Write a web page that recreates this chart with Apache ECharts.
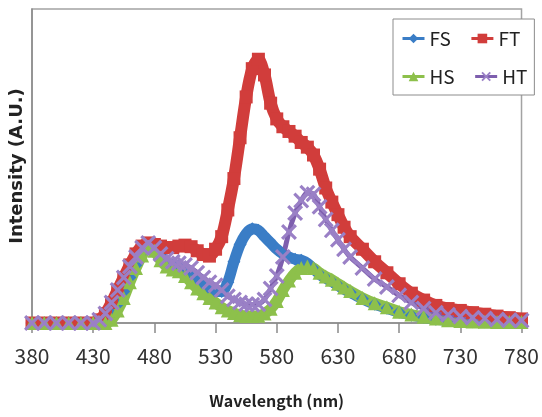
<!DOCTYPE html>
<html><head><meta charset="utf-8">
<script src="https://cdn.jsdelivr.net/npm/echarts@6/dist/echarts.min.js"></script>
<style>html,body{margin:0;padding:0;background:#fff}#c{width:542px;height:417px}</style>
</head><body><div id="c"></div>
<script>
const wavelengths = [380,390,400,410,420,430,435,440,445,450,455,460,465,470,475,480,485,490,495,500,505,510,515,520,525,530,535,540,545,550,555,560,565,570,575,580,585,590,595,600,605,610,615,620,625,630,635,640,650,660,670,680,690,700,710,720,730,740,750,760,770,780];
const xTickLabels = [380,430,480,530,580,630,680,730,780];
const seriesNames = ['FS','FT','HS','HT'];
const fsValues = [0,0,0,0,0,0,
  0.3,1,3,6,10,14.5,18.5,22.5,24.5,23.5,21.5,19.5,18.5,18,17,15.5,14,12.5,11,10,10,13,19.5,25,28.5,30,29.5,27.5,25.5,23.5,22,21,20.3,20,19,17.3,15.5,14.3,13.2,12,10.8,9.8,
  7.7,6,4.7,3.4,2.5,1.8,1.2,0.8,0.5,0.4,0.4,0.4,0.4,0.4];
const ftValues = [0,0,0,0,0,0,
  1,3,6.5,10.5,14.5,18.5,22,24.5,25.5,25,24.5,24,24,24.5,24.8,24.3,23,21.8,21.3,23.5,27.5,36,46,59,72,81,84,79,70,65,62.5,61,59.5,57.5,56,53.5,49,43,38.5,34.5,30.5,27.5,
  23.5,19.5,16,12.5,9.5,7.3,5.6,4.6,4,3.3,2.8,2.2,1.7,1.3];
const hsValues = [0,0,0,0,0,0,
  0,0,1,4,8,13,17.5,21.5,24,23,20,18,17,16.5,15,13,11,9.5,8,6.5,5,4,3.2,2.5,2.2,2.2,2.3,3,4.5,7,10.5,13.5,16,17.5,18,17.5,16,14.8,13.8,12.5,11.3,10.2,
  8,6.3,5,3.6,2.7,2,1.4,0.9,0.6,0.5,0.4,0.3,0.3,0.3];
const htValues = [0,0,0,0,0,0,
  1,3,6.5,10.5,14.5,18,21,24,25.5,24,22,20.5,19.5,19,18.5,17.5,16,14.5,13,12,10.5,8.5,7.5,6.5,6,5.8,6,7.5,11,15,21,29,35,39,41.5,41,37,33,29.5,26.5,23.5,21,
  17.5,14,11.5,8.8,6.5,4.6,3.3,2.6,2.1,1.7,1.4,1.1,0.9,0.8];

function pairs(v){ return wavelengths.map(function(w,i){ return [w, v[i]]; }); }
const xPath = 'path://M0,1.4L1.4,0L5,3.6L8.6,0L10,1.4L6.4,5L10,8.6L8.6,10L5,6.4L1.4,10L0,8.6L3.6,5Z';
const kr = '"Noto Sans CJK KR","Noto Sans",sans-serif';

const chart = echarts.init(document.getElementById('c'));
function mk(name, vals, color, symbol, symColor, size, lw){
  return {name:name, type:'line', data:pairs(vals), smooth:0.3, clip:false,
    symbol:symbol, symbolSize:size, showAllSymbol:true, silent:true,
    lineStyle:{width:lw, color:color},
    itemStyle:{color:symColor, borderWidth:0},
    emphasis:{disabled:true}};
}
chart.setOption({
  animation:false,
  grid:{left:32,right:13,top:9,bottom:94,show:true,borderColor:'#a3a3a3',borderWidth:1.5},
  xAxis:{type:'value',min:380,max:780,interval:50,
    axisLine:{lineStyle:{color:'#8a8a8a',width:1.5}},
    axisTick:{show:true,length:10,lineStyle:{color:'#8a8a8a',width:1.5}},
    axisLabel:{margin:23,fontFamily:kr,fontSize:21,color:'#333',
      formatter:function(v){ return xTickLabels.indexOf(v) >= 0 ? String(v) : ''; }},
    splitLine:{show:false},
    name:'Wavelength (nm)',nameLocation:'middle',nameGap:70,
    nameTextStyle:{fontFamily:kr,fontWeight:'bold',fontSize:16,color:'#222'}},
  yAxis:{type:'value',min:0,max:100,
    axisLine:{show:true,lineStyle:{color:'#8a8a8a',width:1.5}},
    axisTick:{show:false},axisLabel:{show:false},splitLine:{show:false},
    name:'Intensity (A.U.)',nameLocation:'middle',nameGap:6,
    nameTextStyle:{fontFamily:'"DejaVu Sans",Verdana,sans-serif',fontWeight:'bold',fontSize:18,color:'#222'}},
  legend:{left:393,top:19,width:160,orient:'horizontal',itemWidth:22,itemHeight:12,itemGap:19,
    padding:[10,7,9,8],borderColor:'#8c8c8c',borderWidth:1,backgroundColor:'#fff',
    textStyle:{fontFamily:kr,fontSize:19,color:'#222'},
    lineStyle:{width:3},
    data:seriesNames},
  series:[
    mk(seriesNames[0], fsValues, '#3a7dc6', 'diamond', '#3a7dc6', 13, 11),
    mk(seriesNames[1], ftValues, '#d13d3b', 'rect', '#d13d3b', 13, 12),
    mk(seriesNames[2], hsValues, '#8dc04b', 'triangle', '#8dc04b', 14, 11),
    mk(seriesNames[3], htValues, '#7e5fae', xPath, '#9a80c6', 16, 5)
  ]
});
</script></body></html>
